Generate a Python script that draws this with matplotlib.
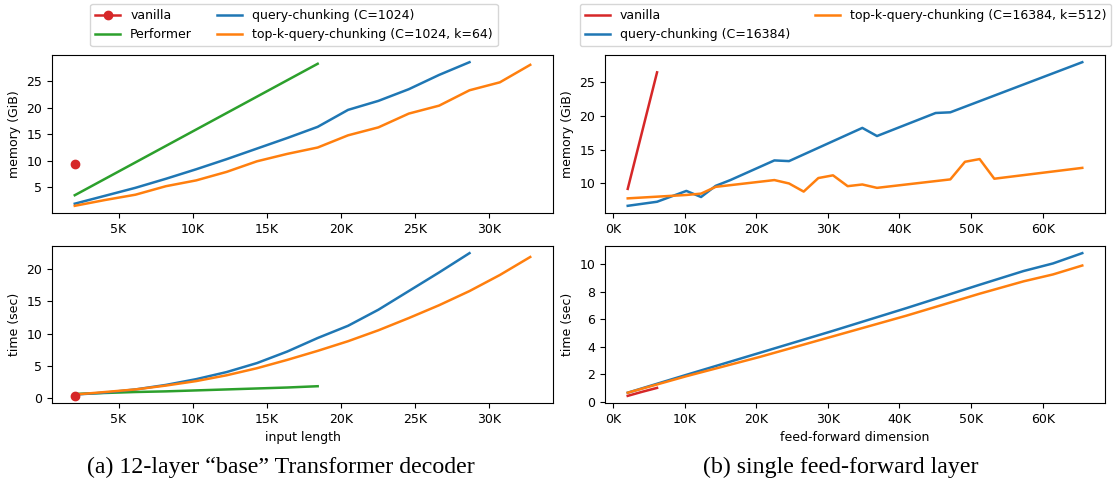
import matplotlib
matplotlib.use('Agg')
import matplotlib.pyplot as plt
import matplotlib.ticker as ticker

# --- (a) 12-layer base decoder: input length vs memory / time ---
len_vanilla = [2048]
mem_vanilla = [9.3]
time_vanilla = [0.3]

len_performer = [2048, 4096, 6144, 8192, 10240, 12288, 14336, 16384, 18432]
mem_performer = [3.5, 6.6, 9.7, 12.8, 15.9, 19.0, 22.1, 25.2, 28.3]
time_performer = [0.6, 0.75, 0.9, 1.0, 1.15, 1.3, 1.45, 1.6, 1.8]

len_chunk = [2048, 4096, 6144, 8192, 10240, 12288, 14336, 16384, 18432,
             20480, 22528, 24576, 26624, 28672]
mem_chunk = [1.9, 3.4, 4.9, 6.6, 8.4, 10.3, 12.3, 14.3, 16.4,
             19.6, 21.3, 23.5, 26.2, 28.6]
time_chunk = [0.5, 0.8, 1.3, 2.0, 2.9, 4.0, 5.4, 7.2, 9.3,
              11.2, 13.7, 16.6, 19.5, 22.5]

len_topk = [2048, 4096, 6144, 8192, 10240, 12288, 14336, 16384, 18432,
            20480, 22528, 24576, 26624, 28672, 30720, 32768]
mem_topk = [1.5, 2.6, 3.6, 5.2, 6.3, 7.9, 9.9, 11.3, 12.5,
            14.8, 16.3, 18.9, 20.4, 23.3, 24.8, 28.1]
time_topk = [0.5, 0.9, 1.3, 1.9, 2.6, 3.5, 4.6, 5.9, 7.3,
             8.8, 10.5, 12.4, 14.4, 16.6, 19.1, 21.9]

# --- (b) single feed-forward layer: ff dimension vs memory / time ---
ff_vanilla = [2048, 4096, 6144]
ff_mem_vanilla = [9.2, 17.8, 26.4]
ff_time_vanilla = [0.42, 0.72, 1.0]

ff_mem_chunk_x = [2048, 6144, 10240, 12288, 14336, 16384, 22528, 24576,
                  34816, 36864, 45056, 47104, 65536]
ff_mem_chunk = [6.7, 7.3, 8.9, 8.0, 9.65, 10.5, 13.4, 13.3,
                18.2, 17.0, 20.4, 20.5, 27.9]

ff_mem_topk_x = [2048, 10240, 12288, 14336, 22528, 24576, 26624, 28672, 30720,
                 32768, 34816, 36864, 47104, 49152, 51200, 53248, 65536]
ff_mem_topk = [7.8, 8.3, 8.5, 9.5, 10.5, 10.0, 8.8, 10.8, 11.2,
               9.6, 9.85, 9.35, 10.6, 13.2, 13.6, 10.7, 12.3]

ff_time_x = [2048, 6144, 10240, 20480, 30720, 40960, 51200, 57344, 61440, 65536]
ff_time_chunk = [0.65, 1.3, 1.95, 3.55, 5.15, 6.8, 8.5, 9.5, 10.05, 10.8]
ff_time_topk = [0.65, 1.25, 1.85, 3.25, 4.75, 6.25, 7.85, 8.75, 9.25, 9.9]

RED, GREEN, BLUE, ORANGE = 'tab:red', 'tab:green', 'tab:blue', 'tab:orange'

plt.rcParams['font.size'] = 9
plt.rcParams['lines.linewidth'] = 1.8

W, H = 1119, 487
fig = plt.figure(figsize=(W / 100, H / 100), dpi=100)


def px_axes(left, top, right, bottom):
    # axes box given in pixel coords (origin top-left)
    return fig.add_axes([left / W, 1 - bottom / H, (right - left) / W, (bottom - top) / H])


kfmt = ticker.FuncFormatter(lambda v, pos: f'{v / 1000:.0f}K')

ax_a_mem = px_axes(52, 55, 553, 213)
ax_a_time = px_axes(52, 246, 553, 403)
ax_b_mem = px_axes(605, 55, 1105, 213)
ax_b_time = px_axes(605, 246, 1105, 403)

# (a) memory
ax_a_mem.plot(len_vanilla, mem_vanilla, 'o-', color=RED, label='vanilla')
ax_a_mem.plot(len_performer, mem_performer, color=GREEN, label='Performer')
ax_a_mem.plot(len_chunk, mem_chunk, color=BLUE, label='query-chunking (C=1024)')
ax_a_mem.plot(len_topk, mem_topk, color=ORANGE, label='top-k-query-chunking (C=1024, k=64)')
ax_a_mem.set_ylabel('memory (GiB)')
ax_a_mem.legend(ncol=2, loc='lower center', bbox_to_anchor=(0.483, 1.016))

# (a) time
ax_a_time.plot(len_performer, time_performer, color=GREEN)
ax_a_time.plot(len_chunk, time_chunk, color=BLUE)
ax_a_time.plot(len_topk, time_topk, color=ORANGE)
ax_a_time.plot(len_vanilla, time_vanilla, 'o-', color=RED)
ax_a_time.set_ylabel('time (sec)')
ax_a_time.set_xlabel('input length')

# (b) memory
ax_b_mem.plot(ff_vanilla, ff_mem_vanilla, color=RED, label='vanilla')
ax_b_mem.plot(ff_mem_chunk_x, ff_mem_chunk, color=BLUE, label='query-chunking (C=16384)')
ax_b_mem.plot(ff_mem_topk_x, ff_mem_topk, color=ORANGE, label='top-k-query-chunking (C=16384, k=512)')
ax_b_mem.set_ylabel('memory (GiB)')
ax_b_mem.legend(ncol=2, loc='lower center', bbox_to_anchor=(0.481, 1.016))

# (b) time
ax_b_time.plot(ff_time_x, ff_time_chunk, color=BLUE)
ax_b_time.plot(ff_time_x, ff_time_topk, color=ORANGE)
ax_b_time.plot(ff_vanilla, ff_time_vanilla, color=RED)
ax_b_time.set_ylabel('time (sec)')
ax_b_time.set_xlabel('feed-forward dimension')

for ax in (ax_a_mem, ax_a_time, ax_b_mem, ax_b_time):
    ax.xaxis.set_major_formatter(kfmt)

fig.text(280.5 / W, 1 - 473 / H, '(a) 12-layer “base” Transformer decoder',
         ha='center', va='baseline', family='Liberation Serif', fontsize=17.2)
fig.text(841 / W, 1 - 473 / H, '(b) single feed-forward layer',
         ha='center', va='baseline', family='Liberation Serif', fontsize=17.2)

fig.savefig('out.png', dpi=100)
